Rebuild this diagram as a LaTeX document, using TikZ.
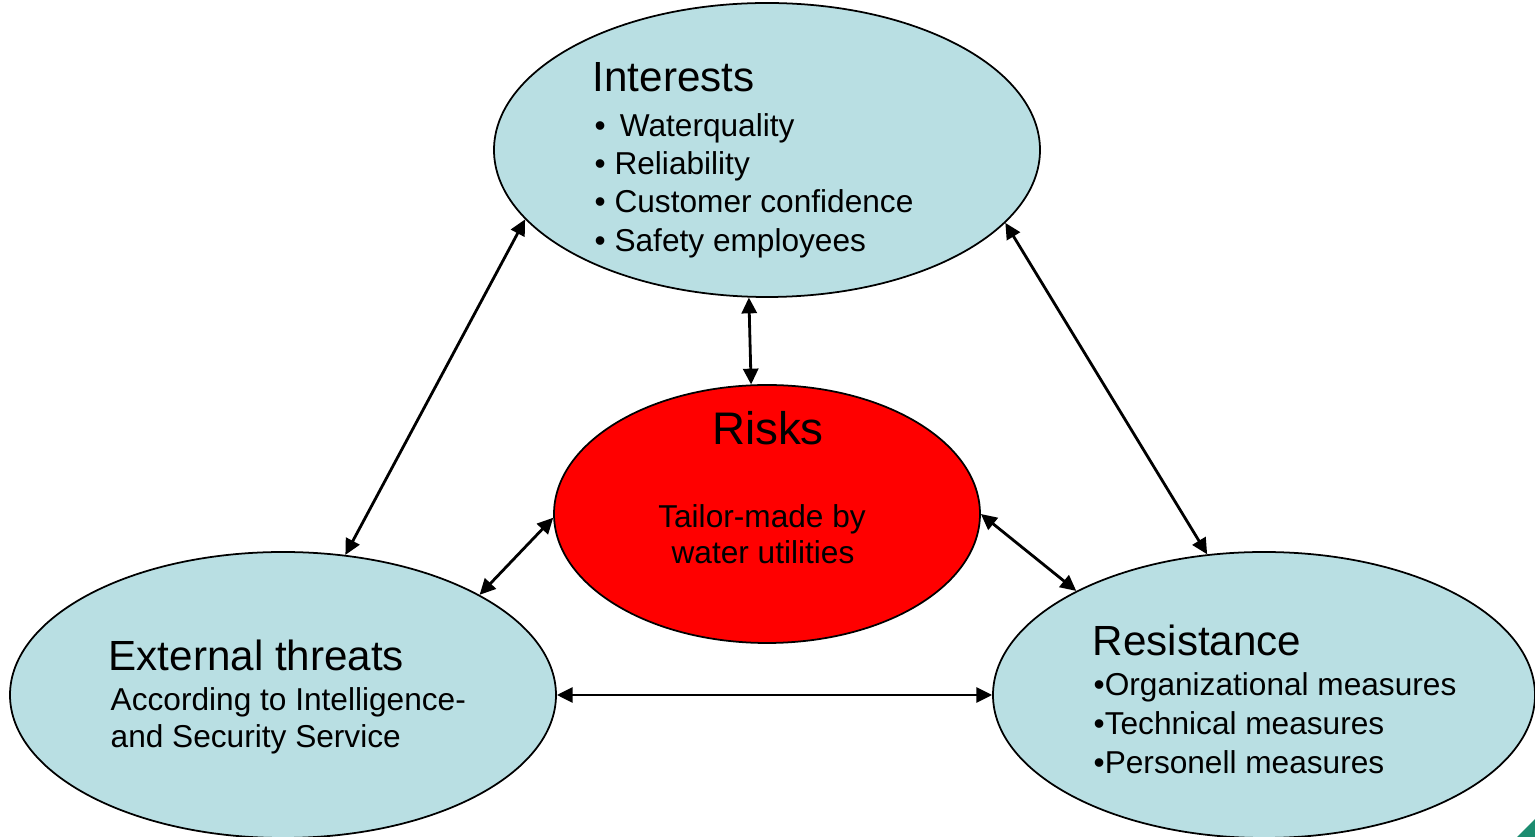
\documentclass[tikz,border=0pt]{standalone}
\usepackage{fontspec}
\setmainfont{Liberation Sans}
\usepackage{xcolor}
\usepackage{tikz}
\usetikzlibrary{positioning,arrows.meta,shapes.geometric}

\definecolor{lightaqua}{RGB}{185,223,227}
\definecolor{cornergreen}{RGB}{28,140,112}

\begin{document}
\begin{tikzpicture}[
    blob/.style={draw,ellipse,line width=0.5pt,inner sep=0pt,fill=lightaqua},
    txt/.style={inner sep=0pt,anchor=base west},
    head/.style={txt,font=\fontsize{12}{14}\selectfont},
    item/.style={txt,font=\fontsize{9}{11}\selectfont},
    link/.style={{Triangle[length=4.5pt,width=4.3pt]}-{Triangle[length=4.5pt,width=4.3pt]},line width=0.8pt}
  ]
    \useasboundingbox (0,0) rectangle (15.35,8.37);
    \fill[cornergreen] (15.17,0) .. controls (15.25,0.08) .. (15.35,0.18) -- (15.35,0) -- cycle;

    \node[blob,minimum width=5.46cm,minimum height=2.94cm] (int) at (7.67,6.87) {};
    \node[blob,minimum width=4.26cm,minimum height=2.58cm,fill=red] (risk) at (7.67,3.23) {};
    \node[blob,minimum width=5.46cm,minimum height=2.86cm] (ext) at (2.83,1.42) {};
    \node[blob,minimum width=5.42cm,minimum height=2.86cm] (res) at (12.64,1.42) {};

    \node[head] (int-t) at (5.92,7.45) {Interests};
    \node[item] (int-a) at (5.94,7.00) {\textbullet\hspace{1.5pt} Waterquality};
    \node[item] (int-b) at (5.94,6.62) {\textbullet\ Reliability};
    \node[item] (int-c) at (5.94,6.24) {\textbullet\ Customer confidence};
    \node[item] (int-d) at (5.94,5.85) {\textbullet\ Safety employees};

    \node[inner sep=0pt,anchor=base,font=\fontsize{13}{15}\selectfont] (risk-t) at (7.68,3.92) {Risks};
    \node[inner sep=0pt,anchor=base,font=\fontsize{9}{11}\selectfont] (risk-a) at (7.62,3.09) {Tailor-made by};
    \node[inner sep=0pt,anchor=base,font=\fontsize{9}{11}\selectfont] (risk-b) at (7.63,2.73) {water utilities};

    \node[head] (ext-t) at (1.08,1.66) {External threats};
    \node[item] (ext-a) at (1.10,1.26) {According to Intelligence-};
    \node[item] (ext-b) at (1.10,0.89) {and Security Service};

    \node[head] (res-t) at (10.92,1.81) {Resistance};
    \node[item] (res-a) at (10.93,1.41) {\textbullet Organizational measures};
    \node[item] (res-b) at (10.93,1.02) {\textbullet Technical measures};
    \node[item] (res-c) at (10.93,0.63) {\textbullet Personell measures};

    \draw[link] (int.263.4) -- (risk.97.5);
    \draw[link] (int.196.3) -- (ext.66.8);
    \draw[link] (int.-17.2) -- (res.112.8);
    \draw[link] (risk.181) -- (ext.27.7);
    \draw[link] (risk.east) -- (res.151.3);
    \draw[link] (ext.east) -- (res.west);
  \end{tikzpicture}
\end{document}
